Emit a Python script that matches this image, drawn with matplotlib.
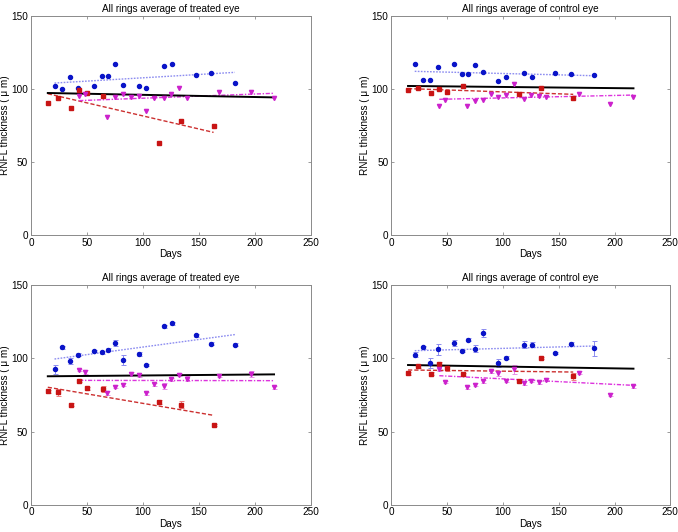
import matplotlib
matplotlib.use("Agg")
import matplotlib.pyplot as plt
import numpy as np

plt.rcParams['font.family'] = ['Liberation Sans', 'DejaVu Sans']

# ---------------- data ----------------
blue_days = [21, 28, 35, 42, 56, 63, 69, 75, 82, 96, 103, 119, 126, 147, 161, 182]
red_days = [15, 24, 36, 43, 50, 64, 114, 134, 163]
mag_days = [43, 48, 68, 75, 82, 89, 96, 103, 110, 119, 125, 132, 139, 168, 196, 217]

# top-left: treated eye
tl_blue = [101.7, 99.9, 107.9, 100.8, 102.2, 109.0, 109.0, 117.2, 102.7, 102.2, 100.6, 115.6, 116.8, 109.5, 110.9, 103.8]
tl_red = [90.6, 94.0, 87.0, 99.2, 97.4, 95.4, 63.0, 78.0, 74.7]
tl_mag = [95.2, 96.5, 81.0, 94.2, 96.3, 94.2, 95.1, 84.9, 94.0, 93.6, 96.7, 100.8, 94.0, 97.7, 98.1, 93.6]
tl_fit_blue = [104.0, 111.3]
tl_fit_red = [96.7, 70.3]
tl_fit_mag = [92.0, 97.0]
tl_fit_all = [97.2, 94.2]

# top-right: control eye
tr_blue = [116.8, 105.8, 105.8, 115.0, 117.2, 110.0, 110.4, 116.3, 111.8, 105.4, 108.4, 111.1, 108.1, 110.6, 110.2, 109.7]
tr_red = [99.2, 100.6, 97.0, 100.2, 97.9, 101.8, 96.5, 100.8, 94.0]
tr_mag = [88.5, 92.4, 88.5, 91.7, 92.4, 96.3, 94.5, 95.6, 103.3, 93.1, 95.6, 94.9, 94.5, 96.7, 89.9, 94.5]
tr_fit_blue = [112.0, 109.0]
tr_fit_red = [100.2, 96.3]
tr_fit_mag = [92.9, 95.8]
tr_fit_all = [102.0, 100.4]

# bottom-left: treated eye (with error bars)
bl_blue = [92.5, 107.6, 98.5, 102.6, 105.1, 104.2, 105.8, 110.4, 99.0, 103.0, 95.5, 122.0, 124.0, 115.8, 110.1, 109.4]
bl_blue_err = [3.0, 1.0, 2.0, 1.0, 1.0, 1.0, 1.0, 2.0, 3.5, 1.5, 1.0, 1.0, 1.0, 1.0, 1.0, 1.0]
bl_red = [77.7, 76.8, 68.3, 84.8, 79.5, 79.0, 70.4, 68.4, 54.5]
bl_red_err = [1.0, 2.5, 1.0, 1.0, 1.0, 2.0, 1.5, 2.5, 0.5]
bl_mag = [92.1, 90.7, 76.4, 80.5, 82.1, 89.4, 88.4, 76.1, 82.3, 81.2, 85.9, 88.9, 86.2, 88.2, 89.1, 80.2]
bl_mag_err = [1.0, 1.5, 1.5, 1.0, 1.0, 1.0, 1.0, 1.0, 1.0, 2.0, 1.0, 1.0, 1.5, 1.0, 2.0, 1.0]
bl_fit_blue = [99.6, 116.3]
bl_fit_red = [80.3, 61.1]
bl_fit_mag = [85.0, 84.8]
bl_fit_all = [87.8, 89.1]

# bottom-right: control eye (with error bars)
br_blue = [102.6, 107.6, 97.1, 106.2, 110.8, 105.1, 112.8, 106.7, 117.4, 96.9, 100.5, 109.4, 109.4, 103.7, 109.9, 106.9]
br_blue_err = [1.5, 1.0, 3.5, 4.0, 2.0, 1.0, 1.0, 2.5, 2.5, 3.0, 1.0, 2.5, 1.5, 1.0, 1.0, 5.0]
br_red = [90.0, 94.8, 89.4, 96.3, 93.2, 89.1, 84.8, 100.3, 87.8]
br_red_err = [1.0, 1.0, 1.0, 1.0, 1.5, 1.0, 1.0, 1.0, 2.5]
br_mag = [93.0, 83.9, 80.2, 82.1, 84.3, 91.2, 89.8, 84.8, 92.5, 83.4, 84.8, 83.7, 85.3, 90.3, 75.2, 80.9]
br_mag_err = [1.5, 1.0, 1.0, 1.0, 1.0, 1.0, 1.5, 1.0, 3.0, 1.5, 1.0, 1.0, 1.0, 1.0, 1.0, 1.0]
br_fit_blue = [105.3, 108.5]
br_fit_red = [92.1, 90.7]
br_fit_mag = [88.2, 81.6]
br_fit_all = [95.5, 93.0]

titles = ["All rings average of treated eye", "All rings average of control eye"]
xticks = [0, 50, 100, 150, 200, 250]
yticks = [0, 50, 100, 150]

# ---------------- styling ----------------
C_BLUE = '#0a14c8'
C_RED = '#c81414'
C_MAG = '#cc22cc'
C_BLUE_FIT = '#8c8cf0'
C_RED_FIT = '#cc3030'
C_MAG_FIT = '#dd33dd'
C_BLUE_ERR = '#8c8cf0'
C_RED_ERR = '#f08080'
C_MAG_ERR = '#e890e8'
SPINE = '#8a8a8a'
FS = 7.2

fig = plt.figure(figsize=(6.78, 5.32), dpi=100)

pos = {
    'tl': [31 / 678, 1 - 235.3 / 532, 280 / 678, 219.6 / 532],
    'tr': [391.3 / 678, 1 - 235.3 / 532, 279 / 678, 219.6 / 532],
    'bl': [31 / 678, 1 - 504.7 / 532, 280 / 678, 219.4 / 532],
    'br': [391.3 / 678, 1 - 504.7 / 532, 279 / 678, 219.4 / 532],
}

panels = [
    ('tl', titles[0], tl_blue, None, tl_red, None, tl_mag, None, tl_fit_blue, tl_fit_red, tl_fit_mag, tl_fit_all),
    ('tr', titles[1], tr_blue, None, tr_red, None, tr_mag, None, tr_fit_blue, tr_fit_red, tr_fit_mag, tr_fit_all),
    ('bl', titles[0], bl_blue, bl_blue_err, bl_red, bl_red_err, bl_mag, bl_mag_err, bl_fit_blue, bl_fit_red, bl_fit_mag, bl_fit_all),
    ('br', titles[1], br_blue, br_blue_err, br_red, br_red_err, br_mag, br_mag_err, br_fit_blue, br_fit_red, br_fit_mag, br_fit_all),
]

all_days = blue_days + red_days + mag_days
xmin_all, xmax_all = min(all_days), max(all_days)

for key, title, b, be, r, re_, m, me, fb, fr, fm, fa in panels:
    ax = fig.add_axes(pos[key])
    if be is not None:
        ax.errorbar(blue_days, b, yerr=be, fmt='none', ecolor=C_BLUE_ERR, elinewidth=0.7, capsize=1.8, capthick=0.7, zorder=2)
        ax.errorbar(red_days, r, yerr=re_, fmt='none', ecolor=C_RED_ERR, elinewidth=0.7, capsize=1.8, capthick=0.7, zorder=2)
        ax.errorbar(mag_days, m, yerr=me, fmt='none', ecolor=C_MAG_ERR, elinewidth=0.7, capsize=1.8, capthick=0.7, zorder=2)
    ax.plot([min(blue_days), max(blue_days)], fb, linestyle=(0, (1.2, 1.0)), color=C_BLUE_FIT, lw=1.0, zorder=3)
    ax.plot([min(red_days), max(red_days)], fr, linestyle=(0, (3, 1.5)), color=C_RED_FIT, lw=1.0, zorder=3)
    ax.plot([min(mag_days), max(mag_days)], fm, linestyle=(0, (3, 1.2, 1, 1.2)), color=C_MAG_FIT, lw=1.0, zorder=3)
    ax.plot([xmin_all, xmax_all], fa, linestyle='-', color='black', lw=1.4, zorder=3)
    ax.plot(blue_days, b, 'o', color=C_BLUE, ms=2.9, mec=C_BLUE, zorder=4)
    ax.plot(red_days, r, 's', color=C_RED, ms=2.4, mec=C_RED, zorder=4)
    ax.plot(mag_days, m, 'v', color=C_MAG, ms=3.0, mec=C_MAG, zorder=4)

    ax.set_xlim(0, 250)
    ax.set_ylim(0, 150)
    ax.set_xticks(xticks)
    ax.set_yticks(yticks)
    ax.tick_params(direction='in', length=2.5, width=0.6, color=SPINE, labelsize=FS,
                   top=True, right=True, pad=2)
    for s in ax.spines.values():
        s.set_color(SPINE)
        s.set_linewidth(0.7)
    ax.set_title(title, fontsize=FS, pad=3)
    ax.set_xlabel('Days', fontsize=FS, labelpad=1)
    ax.set_ylabel('RNFL thickness ( μ m)', fontsize=FS, labelpad=1)

fig.savefig('out.png', dpi=100)
